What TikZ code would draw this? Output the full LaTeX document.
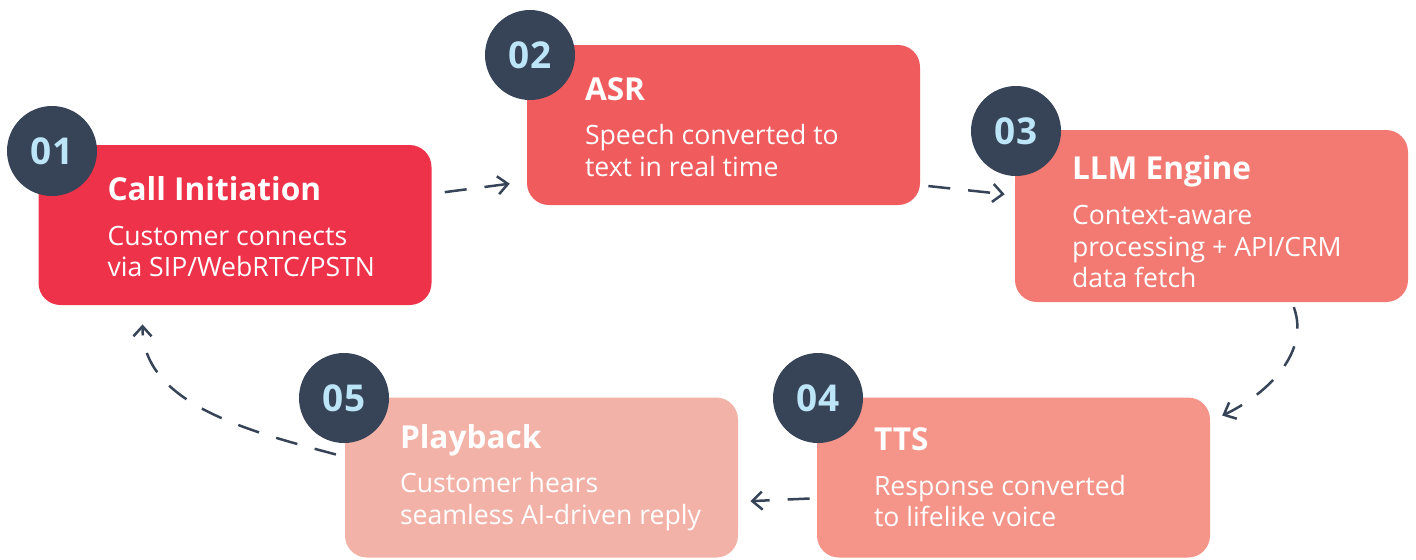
\documentclass[tikz,border=0pt]{standalone}
\usepackage{fontspec}
\setmainfont{Open Sans}
\usepackage{tikz}
\usetikzlibrary{arrows.meta}

\definecolor{initred}{RGB}{238,50,74}
\definecolor{asrred}{RGB}{240,91,93}
\definecolor{llmred}{RGB}{242,122,114}
\definecolor{ttsred}{RGB}{245,148,137}
\definecolor{playred}{RGB}{243,178,167}
\definecolor{navy}{RGB}{55,67,87}
\definecolor{iceblue}{RGB}{189,229,248}

\newcommand\steptitle[1]{{\fontsize{15.8}{16}\selectfont\bfseries #1}}

\tikzset{
	stepbox/.style={draw=none, rounded corners=11pt, minimum width=196.5pt, minimum height=80pt, inner sep=0pt},
	numdot/.style={circle, fill=navy, minimum size=45pt, inner sep=0pt, text=iceblue, font=\fontsize{18.5}{20}\selectfont\bfseries},
	steptext/.style={anchor=west, align=left, inner sep=0pt, text=white, font=\fontsize{13.3}{15.8}\selectfont},
	flow/.style={navy, line width=1.25pt, dash pattern=on 11pt off 9pt, -{Straight Barb[length=5pt,width=9pt]}}
}

\begin{document}
\begin{tikzpicture}[x=0.5pt,y=-0.5pt]
	
	\useasboundingbox (0,0) rectangle (1416,559);
	
	\node[stepbox, fill=initred] (init) at (235,225) {};
	\node[stepbox, fill=asrred] (asr) at (723.5,125) {};
	\node[stepbox, fill=llmred, minimum height=86pt] (llm) at (1211.5,216) {};
	\node[stepbox, fill=ttsred] (tts) at (1013.5,477.5) {};
	\node[stepbox, fill=playred] (play) at (541.5,477.5) {};
	
	\node[steptext] (init-t) at ([xshift=34.5pt,yshift=-1pt]init.west) {\steptitle{Call Initiation}\\[6.5pt]Customer connects\\via SIP/WebRTC/PSTN};
	\node[steptext] (asr-t) at ([xshift=29pt,yshift=-1pt]asr.west) {\steptitle{ASR}\\[6.5pt]Speech converted to\\text in real time};
	\node[steptext] (llm-t) at ([xshift=28.5pt,yshift=-3pt]llm.west) {\steptitle{LLM Engine}\\[6.5pt]Context-aware\\processing + API/CRM\\data fetch};
	\node[steptext] (tts-t) at ([xshift=28.5pt]tts.west) {\steptitle{TTS}\\[6.5pt]Response converted\\to lifelike voice};
	\node[steptext] (play-t) at ([xshift=27.5pt]play.west) {\steptitle{Playback}\\[6.5pt]Customer hears\\seamless AI-driven reply};
	
	\node[numdot] (n1) at (52,151) {01};
	\node[numdot] (n2) at (530,55) {02};
	\node[numdot] (n3) at (1016,131) {03};
	\node[numdot] (n4) at (818,398) {04};
	\node[numdot] (n5) at (344,398) {05};
	
	\draw[flow, shorten <=6.5pt, shorten >=8.5pt] (init.9.5) -- (asr.196.4);
	\draw[flow, shorten <=4pt, shorten >=5pt] (asr.343.8) -- (llm.174.5);
	\draw[flow, shorten <=2.5pt, shorten >=6.5pt] (llm.313.5) to[out=-70,in=25] (tts.16.8);
	\draw[flow, shorten <=3.5pt, shorten >=6pt] (tts.186.2) -- (play.353.5);
	\draw[flow, shorten <=4.5pt, shorten >=9.5pt] (play.174.3) to[out=165,in=-90] (init.221.6);
	
\end{tikzpicture}
\end{document}
